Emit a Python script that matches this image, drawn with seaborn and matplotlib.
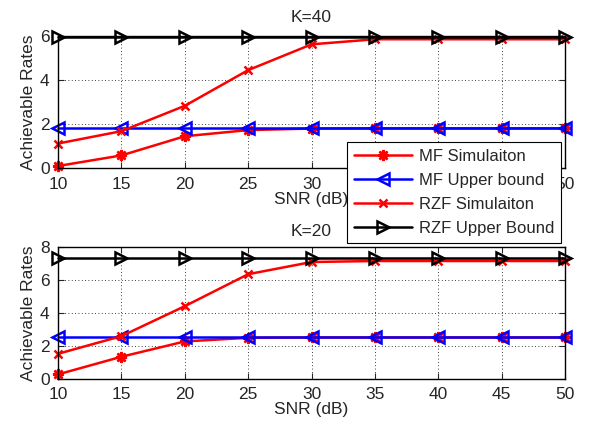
import matplotlib
matplotlib.use("Agg")
import matplotlib.pyplot as plt
import seaborn as sns

# Data
snr = [10, 15, 20, 25, 30, 35, 40, 45, 50]

# K=40
mf_sim_40 = [0.10, 0.58, 1.45, 1.73, 1.80, 1.81, 1.81, 1.81, 1.81]
mf_ub_40 = [1.82, 1.82, 1.82, 1.82, 1.82, 1.82, 1.82, 1.82, 1.82]
rzf_sim_40 = [1.12, 1.68, 2.83, 4.45, 5.62, 5.85, 5.85, 5.85, 5.85]
rzf_ub_40 = [5.97, 5.97, 5.97, 5.97, 5.97, 5.97, 5.97, 5.97, 5.97]

# K=20
mf_sim_20 = [0.28, 1.35, 2.28, 2.50, 2.52, 2.52, 2.52, 2.52, 2.52]
mf_ub_20 = [2.53, 2.53, 2.53, 2.53, 2.53, 2.53, 2.53, 2.53, 2.53]
rzf_sim_20 = [1.53, 2.60, 4.42, 6.36, 7.10, 7.16, 7.16, 7.16, 7.16]
rzf_ub_20 = [7.35, 7.35, 7.35, 7.35, 7.35, 7.35, 7.35, 7.35, 7.35]

labels = ["MF Simulaiton", "MF Upper bound", "RZF Simulaiton", "RZF Upper Bound"]

sns.set_style("ticks")
plt.rcParams['font.family'] = ['Liberation Sans', 'DejaVu Sans']

fig = plt.figure(figsize=(5.89, 4.28), dpi=100)
ax1 = fig.add_axes([0.0985, 0.607, 0.861, 0.309])
ax2 = fig.add_axes([0.0985, 0.1145, 0.861, 0.308])


def draw(ax, series, ymax, title, tpad):
    styles = [
        dict(color="red", marker=(8, 2, 0), markersize=8, markerfacecolor="red", markeredgewidth=1.8),
        dict(color="blue", marker="<", markersize=8.5, markerfacecolor="none", markeredgewidth=1.8),
        dict(color="red", marker="x", markersize=6, markeredgewidth=1.8),
        dict(color="black", marker=">", markersize=8.5, markerfacecolor="none", markeredgewidth=1.8),
    ]
    for vals, lab, st in zip(series, labels, styles):
        sns.lineplot(x=snr, y=vals, ax=ax, label=lab, linewidth=1.8, clip_on=False,
                     markeredgecolor=st["color"], **st)
    ax.set_xlim(10, 50)
    ax.set_ylim(0, ymax)
    ax.set_xticks(snr)
    ax.set_yticks(range(0, ymax + 1, 2))
    ax.grid(True, color="black", linestyle=(0, (1, 3)), linewidth=0.6)
    ax.tick_params(direction="in", top=True, right=True, labelsize=12.5, length=4, pad=6)
    for s in ax.spines.values():
        s.set_linewidth(1.0)
        s.set_color("black")
    ax.set_xlabel("SNR (dB)", fontsize=12.5, labelpad=0)
    ax.set_ylabel("Achievable Rates", fontsize=12.5, labelpad=3)
    ax.set_title(title, fontsize=12.5, pad=tpad)
    ax.get_legend().remove()


draw(ax1, [mf_sim_40, mf_ub_40, rzf_sim_40, rzf_ub_40], 6, "K=40", 10)
draw(ax2, [mf_sim_20, mf_ub_20, rzf_sim_20, rzf_ub_20], 8, "K=20", 8)

handles, labs = ax1.get_legend_handles_labels()
leg = fig.legend(handles, labs, loc="upper left",
                 bbox_to_anchor=(347 / 589, 1 - 142 / 428), borderaxespad=0,
                 fontsize=12, frameon=True, fancybox=False, edgecolor="black",
                 framealpha=1, borderpad=0.4, labelspacing=0.55, handlelength=3.5,
                 handletextpad=0.4)
leg.get_frame().set_linewidth(0.8)

fig.savefig("out.png", dpi=100)
